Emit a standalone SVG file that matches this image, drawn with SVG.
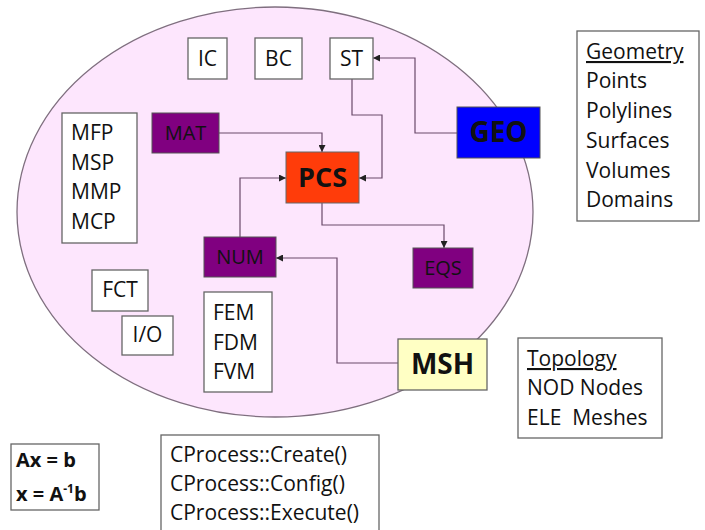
<svg xmlns="http://www.w3.org/2000/svg" width="705" height="530" viewBox="0 0 705 530">
<defs>
<style>
text{font-family:"Open Sans","Liberation Sans",sans-serif;font-size:21px;fill:#111}
.box{fill:#fff;stroke:#666;stroke-width:1.3}
.pur{fill:#800080;stroke:#555;stroke-width:1}
.c{text-anchor:middle}
.b{font-weight:bold}
.big{font-size:27px;font-weight:bold}
.sm{font-size:20px}
.u{text-decoration:underline}
.con{fill:none;stroke:#6a4a6a;stroke-width:1.2;marker-end:url(#ah)}
</style>
<marker id="ah" viewBox="0 0 10 10" refX="10" refY="5" markerWidth="7" markerHeight="7" markerUnits="userSpaceOnUse" orient="auto">
<path d="M0,0 L10,5 L0,10 z" fill="#222"/>
</marker>
</defs>
<rect width="705" height="530" fill="#fff"/>
<ellipse id="domain" cx="275" cy="212" rx="258" ry="205" fill="#fde6fd" stroke="#7f6f7f" stroke-width="1.3"/>

<g id="connectors">
<path class="con" d="M219,133 H322 V152"/>
<path class="con" d="M240,237 V178 H286"/>
<path class="con" d="M352,79 V115 H382 V178 H359"/>
<path class="con" d="M457,133 H415 V58 H373"/>
<path class="con" d="M322,203 V225 H444 V248"/>
<path class="con" d="M398,363 H337 V258 H276"/>
</g>

<g id="IC"><rect class="box" x="188" y="38" width="39" height="41"/><text class="c" x="207.5" y="66">IC</text></g>
<g id="BC"><rect class="box" x="255" y="38" width="47" height="41"/><text class="c" x="278.5" y="66">BC</text></g>
<g id="ST"><rect class="box" x="330" y="38" width="43" height="41"/><text class="c" x="351.5" y="66">ST</text></g>

<g id="MFP"><rect class="box" x="62" y="113" width="75" height="130"/>
<text x="71" y="140">MFP</text><text x="71" y="170">MSP</text><text x="71" y="199">MMP</text><text x="71" y="229">MCP</text></g>

<g id="MAT"><rect class="pur" x="152" y="113" width="67" height="40"/><text class="c sm" x="185.5" y="140">MAT</text></g>
<g id="PCS"><rect x="286" y="152" width="73" height="51" fill="#ff3c0a" stroke="#666" stroke-width="1"/><text class="c big" x="322.5" y="187">PCS</text></g>
<g id="GEO"><rect x="457" y="107" width="83" height="51" fill="#0000ff" stroke="#555" stroke-width="1"/><text class="c big" x="498.5" y="142" style="font-size:28px">GEO</text></g>
<g id="NUM"><rect class="pur" x="204" y="237" width="72" height="40"/><text class="c sm" x="240" y="264">NUM</text></g>
<g id="EQS"><rect class="pur" x="413" y="248" width="60" height="40"/><text class="c sm" x="443" y="275">EQS</text></g>

<g id="FCT"><rect class="box" x="92" y="270" width="56" height="41"/><text class="c" x="120" y="297">FCT</text></g>
<g id="IO"><rect class="box" x="122" y="316" width="51" height="39"/><text class="c" x="147.5" y="342">I/O</text></g>
<g id="FEM"><rect class="box" x="204" y="292" width="68" height="100"/>
<text x="213" y="320">FEM</text><text x="213" y="350">FDM</text><text x="213" y="379">FVM</text></g>

<g id="MSH"><rect x="398" y="339" width="89" height="51" fill="#ffffc4" stroke="#666" stroke-width="1.3"/><text class="c big" x="442.5" y="374" style="font-size:28px">MSH</text></g>

<g id="Geometry"><rect class="box" x="577" y="31" width="122" height="190"/>
<text class="u" x="586" y="59">Geometry</text><text x="586" y="88">Points</text><text x="586" y="118">Polylines</text><text x="586" y="148">Surfaces</text><text x="586" y="178">Volumes</text><text x="586" y="207">Domains</text></g>

<g id="Topology"><rect class="box" x="518" y="338" width="144" height="100"/>
<text class="u" x="527" y="366">Topology</text><text x="527" y="395">NOD Nodes</text><text x="527" y="425" xml:space="preserve">ELE  Meshes</text></g>

<g id="Eq"><rect class="box" x="11" y="444" width="88" height="66"/>
<text class="b" x="16" y="467" style="font-size:20px">Ax = b</text>
<text class="b" x="16" y="501" style="font-size:20px">x = A<tspan dy="-8" style="font-size:12px">-1</tspan><tspan dy="8">b</tspan></text></g>

<g id="CProcess"><rect class="box" x="161" y="435" width="218" height="100"/>
<text x="170" y="462">CProcess::Create()</text><text x="170" y="491">CProcess::Config()</text><text x="170" y="520">CProcess::Execute()</text></g>
</svg>
